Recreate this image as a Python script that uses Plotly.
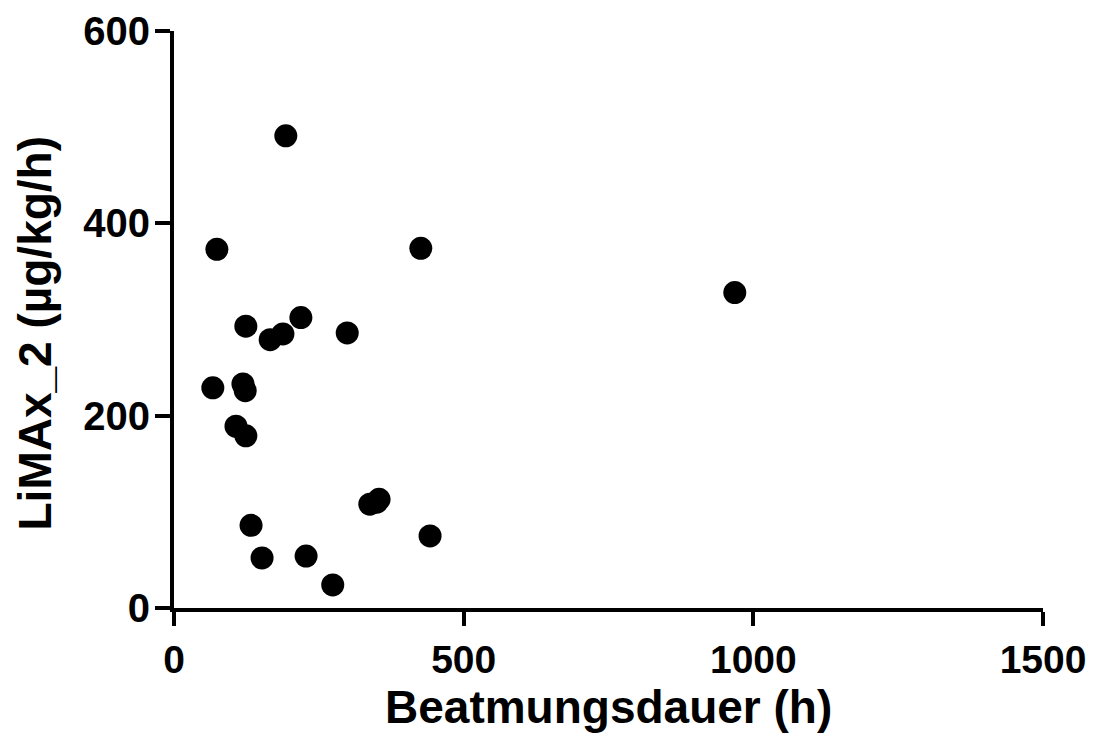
import plotly.graph_objects as go

# Beatmungsdauer (h) vs LiMAx_2 (µg/kg/h)
beatmung_h = [193, 74, 426, 968, 124, 219, 299, 166, 188, 67, 119, 123,
              107, 124, 133, 152, 228, 274, 338, 354, 350, 442]
limax_2 = [491, 373, 374, 328, 293, 302, 286, 279, 285, 229, 233, 226,
           189, 179, 86, 52, 54, 24, 108, 113, 110, 75]

x_ticks = [0, 500, 1000, 1500]
y_ticks = [0, 200, 400, 600]

fig = go.Figure(go.Scatter(
    x=beatmung_h,
    y=limax_2,
    mode='markers',
    marker=dict(color='black', size=23, line=dict(width=0)),
    cliponaxis=False,
))

font_family = "Liberation Sans, Arial, sans-serif"
title_font = dict(family=font_family, size=46, weight='bold', color='black')

fig.update_layout(
    width=1094, height=742,
    margin=dict(l=166, r=59, t=23, b=142),
    plot_bgcolor='white', paper_bgcolor='white',
    showlegend=False,
    font=dict(family=font_family, size=40, color='black'),
)
fig.update_xaxes(
    range=[0, 1500], tickvals=x_ticks, automargin=False,
    showgrid=False, zeroline=False,
    showline=True, linecolor='black', linewidth=4,
    ticks='outside', ticklen=14, tickwidth=4, tickcolor='black',
    tickfont=dict(family=font_family, size=39, weight='bold'),
)
fig.update_yaxes(
    range=[0, 600], tickvals=y_ticks, automargin=False,
    showgrid=False, zeroline=False,
    showline=True, linecolor='black', linewidth=4,
    ticks='outside', ticklen=15, tickwidth=4, tickcolor='black',
    ticklabelstandoff=-3,
    tickfont=dict(family=font_family, size=40, weight='bold'),
)

# axis titles as annotations for exact placement
fig.add_annotation(text='Beatmungsdauer (h)', xref='paper', yref='paper',
                   x=0.5, y=0, yshift=-99, xanchor='center', yanchor='middle',
                   showarrow=False, font=title_font)
fig.add_annotation(text='LiMAx_2 (µg/kg/h)', xref='paper', yref='paper',
                   x=0, y=0.5, xshift=-140, yshift=-14, textangle=-90,
                   xanchor='center', yanchor='middle',
                   showarrow=False, font=title_font)

fig.write_html("out.html")
